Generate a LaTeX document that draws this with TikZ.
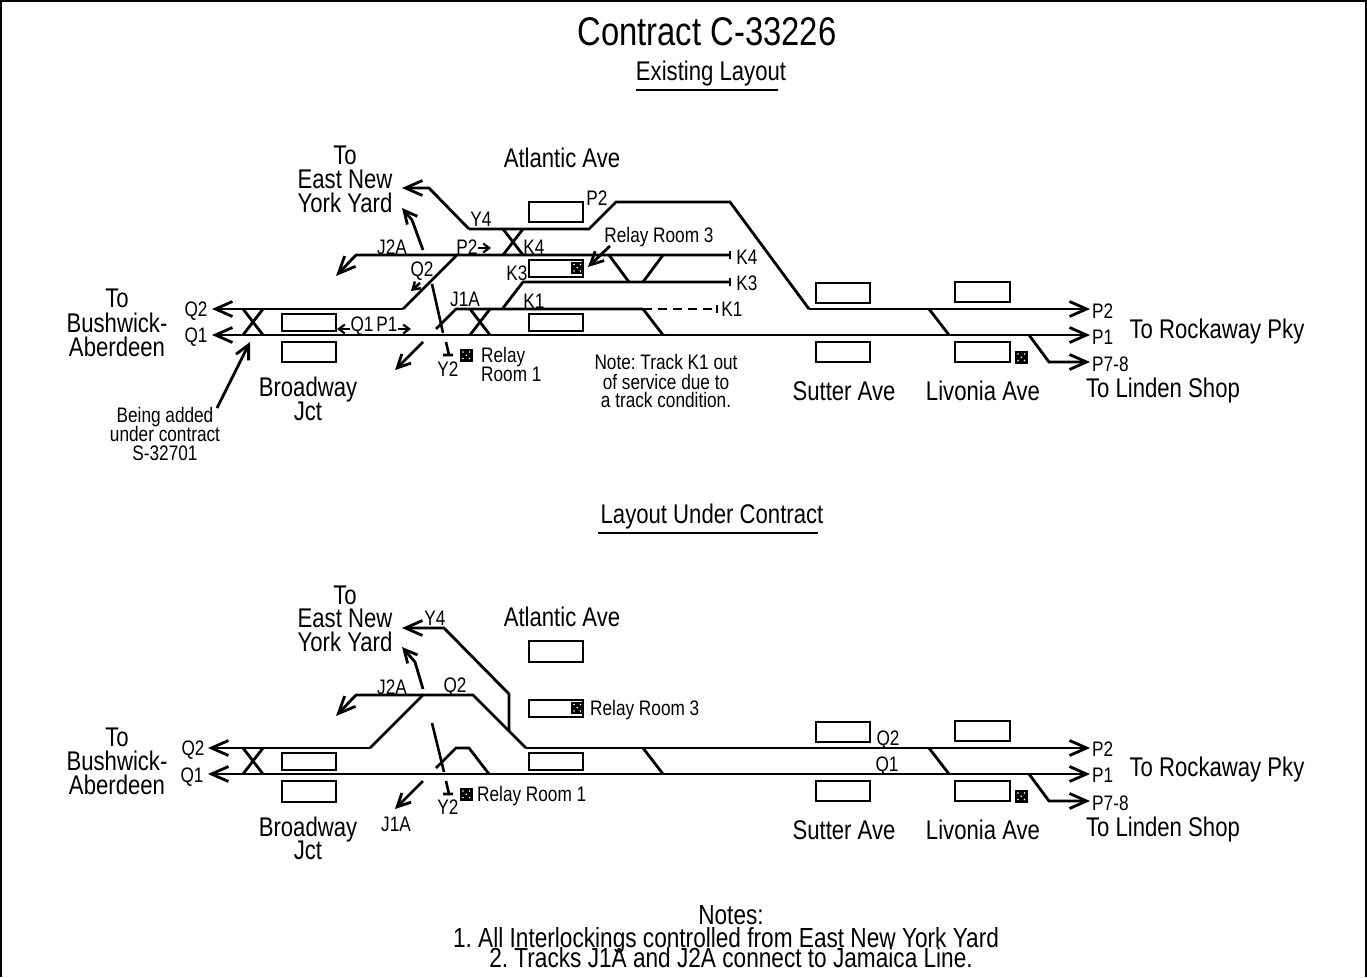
\documentclass[tikz,border=0pt]{standalone}
\usepackage{fontspec}
\setmainfont[FakeStretch=0.82]{Liberation Sans}
\frenchspacing
\usetikzlibrary{arrows.meta}
\tikzset{
  x=1pt,y=-1pt,
  track/.style={line width=2.8pt,line join=miter},
  bigarrow/.style={track,-{Straight Barb[length=17pt,width=15pt,line width=2.8pt]}},
  midarrow/.style={track,-{Straight Barb[length=13pt,width=13pt,line width=2.8pt]}},
  smallarrow/.style={line width=2.4pt,-{Straight Barb[length=6pt,width=9pt,line width=2.2pt]}},
  stub/.style={line width=2.6pt},
  stationbox/.style={draw,line width=2.8pt,fill=white},
  big/.style={font=\fontsize{27}{27}\selectfont,inner sep=0pt,text height=19pt,text depth=0pt},
  notes/.style={font=\fontsize{27.6}{27.6}\selectfont,inner sep=0pt,text height=19pt,text depth=0pt},
  lab/.style={font=\fontsize{21}{21}\selectfont,inner sep=0pt,text height=15pt,text depth=0pt},
  small/.style={font=\fontsize{21}{21}\selectfont,inner sep=0pt,text height=15pt,text depth=0pt},
  lefta/.style={anchor=west},
}
\newcommand{\relaysq}[2]{%
  \fill (#1,#2) rectangle +(12.5,12.5);
  \fill[white] (#1+3,#2+3) circle (0.9pt) (#1+9.5,#2+3) circle (0.9pt) (#1+6.25,#2+6.25) circle (0.9pt) (#1+3,#2+9.5) circle (0.9pt) (#1+9.5,#2+9.5) circle (0.9pt);
}
\begin{document}
\begin{tikzpicture}
\useasboundingbox (0,0) rectangle (1367,977);
\draw[line width=2pt] (1,977) -- (1,1) -- (1366,1) -- (1366,977);

% ---------- headings
\node[font=\fontsize{40}{40}\selectfont,inner sep=0pt,text height=28pt,text depth=0pt] (title) at (707,31) {Contract C-33226};
\node[big] (existing) at (711,71) {Existing Layout};
\draw[track] (636,90) -- (778,90);
\node[big] (under) at (712,514) {Layout Under Contract};
\draw[track] (598,533) -- (818,533);

% ---------- EXISTING LAYOUT: tracks
\draw[bigarrow] (403,309) -- (212,309);
\draw[track] (403,309) -- (457,255) -- (730,255);
\draw[bigarrow] (600,335) -- (212,335);
\draw[bigarrow] (600,335) -- (1090,335);
\draw[bigarrow] (457,255) -- (356,255) -- (336,276);
\draw[bigarrow] (469,229) -- (429,188) -- (402,188);
\draw[track] (469,229) -- (589,229) -- (616,202) -- (730,202) -- (809,309);
\draw[bigarrow] (809,309) -- (1090,309);
\draw[bigarrow] (1029,335) -- (1049,362) -- (1090,362);
\draw[track] (243,309) -- (263,335) (263,309) -- (243,335);
\draw[track] (503,229) -- (523,255) (523,229) -- (503,255);
\draw[track] (470,309) -- (490,335) (490,309) -- (470,335);
\draw[track] (503,308) -- (523,282) -- (730,282);
\draw[track] (436,329) -- (456,309) -- (643,309);
\draw[track,dash pattern=on 9pt off 6pt] (643,309) -- (717,309);
\draw[track] (643,309) -- (663,335);
\draw[track] (609,255) -- (629,282) (663,255) -- (643,282);
\draw[track] (929,309) -- (949,335);
\draw[stub] (730,251) -- (730,259) (730,278) -- (730,286) (717,305) -- (717,313);
% signal Y2
\draw[stub] (432,284) -- (443,333) (446,342) -- (449,355) (443,355) -- (453,355);
% arrows
\draw[midarrow] (423,342) -- (395,370);
\draw[midarrow] (423,250) -- (412,220) -- (402,208);
\draw[line width=2.6pt,-{Straight Barb[length=7pt,width=9pt,line width=2.4pt]}] (420,283) -- (411,291);
\draw[smallarrow] (478,248) -- (491,248);
\draw[smallarrow] (350,329) -- (337,329);
\draw[smallarrow] (398,329) -- (411,329);
\draw[midarrow] (610,246) -- (588,267);
\draw[track,-{Straight Barb[length=14pt,width=14pt,line width=2.8pt]}] (217,408) -- (250,342);

% existing: boxes
\draw[stationbox] (282,314) rectangle (336,331);
\draw[stationbox] (282,342) rectangle (336,362);
\draw[stationbox] (529,202) rectangle (583,222);
\draw[stationbox] (529,260) rectangle (583,277);
\relaysq{571}{261.5}
\draw[stationbox] (529,314) rectangle (583,331);
\draw[stationbox] (816,283) rectangle (870,303);
\draw[stationbox] (816,342) rectangle (870,362);
\draw[stationbox] (955,282) rectangle (1010,302);
\draw[stationbox] (955,342) rectangle (1010,362);
\relaysq{1015}{351}
\relaysq{460}{349}

% existing: text
\node[big] (to1) at (345,155) {To};
\node[big] (eny1) at (345,179) {East New};
\node[big] (yy1) at (345,203) {York Yard};
\node[big] (atl1) at (562,158) {Atlantic Ave};
\node[lab] (y4a) at (481,219) {Y4};
\node[lab] (p2a) at (597,198) {P2};
\node[lab] (j2a) at (392,247) {J2A};
\node[lab] (p2b) at (467,247) {P2};
\node[lab] (k4a) at (534,247) {K4};
\node[lab] (q2a) at (422,269) {Q2};
\node[lab] (k3a) at (517,273) {K3};
\node[small] (rr3) at (659,235) {Relay Room 3};
\node[lab] (k4b) at (747,257) {K4};
\node[lab] (k3b) at (747,283) {K3};
\node[lab] (k1b) at (732,309) {K1};
\node[lab] (j1a) at (465,299) {J1A};
\node[lab] (k1a) at (534,301) {K1};
\node[big] (to2) at (117,298) {To};
\node[big] (bw1) at (117,323) {Bushwick-};
\node[big] (ab1) at (117,347) {Aberdeen};
\node[lab] (q2l) at (196,309) {Q2};
\node[lab] (q1l) at (196,335) {Q1};
\node[lab] (q1m) at (362,324) {Q1};
\node[lab] (p1m) at (387,324) {P1};
\node[lab] (y2a) at (448,369) {Y2};
\node[small,lefta] (rl1) at (481,355) {Relay};
\node[small,lefta] (rl2) at (481,374) {Room 1};
\node[big] (bj1) at (308,387) {Broadway};
\node[big] (bj2) at (308,411) {Jct};
\node[small] (ba1) at (165,415) {Being added};
\node[small] (ba2) at (165,434) {under contract};
\node[small] (ba3) at (165,453) {S-32701};
\node[small] (nt1) at (666,362) {Note: Track K1 out};
\node[small] (nt2) at (666,382) {of service due to};
\node[small] (nt3) at (666,400) {a track condition.};
\node[big] (sut1) at (844,391) {Sutter Ave};
\node[big] (liv1) at (983,391) {Livonia Ave};
\node[big] (lin1) at (1163,388) {To Linden Shop};
\node[big] (roc1) at (1217,329) {To Rockaway Pky};
\node[lab,lefta] (p2r) at (1092,311) {P2};
\node[lab,lefta] (p1r) at (1092,337) {P1};
\node[lab,lefta] (p78) at (1092,364) {P7-8};

% ---------- LAYOUT UNDER CONTRACT: tracks
\draw[bigarrow] (370,748) -- (208,748);
\draw[bigarrow] (600,774) -- (208,774);
\draw[bigarrow] (526,748) -- (1090,748);
\draw[bigarrow] (600,774) -- (1090,774);
\draw[track] (370,748) -- (423,695) -- (473,695) -- (526,748);
\draw[bigarrow] (423,695) -- (356,695) -- (336,716);
\draw[bigarrow] (509,731) -- (509,694) -- (444,628) -- (402,628);
\draw[midarrow] (423,689) -- (415,662) -- (402,647);
\draw[track] (243,748) -- (263,774) (263,748) -- (243,774);
\draw[track] (436,768) -- (456,748) -- (469,748) -- (489,774);
\draw[track] (643,748) -- (663,774);
\draw[track] (929,748) -- (949,774);
\draw[bigarrow] (1029,774) -- (1049,801) -- (1090,801);
\draw[stub] (432,723) -- (444,772) (446,781) -- (449,794) (443,794) -- (453,794);
\draw[midarrow] (423,781) -- (395,809);

% lower: boxes
\draw[stationbox] (282,753) rectangle (336,770);
\draw[stationbox] (282,781) rectangle (336,802);
\draw[stationbox] (529,641) rectangle (583,662);
\draw[stationbox] (529,700) rectangle (583,717);
\relaysq{571}{701.5}
\draw[stationbox] (529,753) rectangle (583,770);
\draw[stationbox] (816,722) rectangle (870,742);
\draw[stationbox] (816,781) rectangle (870,801);
\draw[stationbox] (955,721) rectangle (1010,741);
\draw[stationbox] (955,781) rectangle (1010,801);
\relaysq{1015}{790}
\relaysq{460}{788}

% lower: text
\node[big] (to3) at (345,595) {To};
\node[big] (eny2) at (345,618) {East New};
\node[big] (yy2) at (345,642) {York Yard};
\node[lab] (y4c) at (435,618) {Y4};
\node[big] (atl2) at (562,617) {Atlantic Ave};
\node[lab] (j2c) at (392,687) {J2A};
\node[lab] (q2c) at (455,685) {Q2};
\node[small,lefta] (rr3c) at (590,708) {Relay Room 3};
\node[lab] (q2d) at (193,748) {Q2};
\node[lab] (q1d) at (192,775) {Q1};
\node[big] (to4) at (117,737) {To};
\node[big] (bw2) at (117,761) {Bushwick-};
\node[big] (ab2) at (117,785) {Aberdeen};
\node[lab] (q2e) at (888,738) {Q2};
\node[lab] (q1e) at (887,764) {Q1};
\node[lab,lefta] (p2s) at (1092,749) {P2};
\node[lab,lefta] (p1s) at (1092,775) {P1};
\node[lab,lefta] (p78s) at (1092,803) {P7-8};
\node[big] (roc2) at (1217,767) {To Rockaway Pky};
\node[big] (lin2) at (1163,827) {To Linden Shop};
\node[lab] (y2c) at (448,807) {Y2};
\node[small,lefta] (rr1c) at (477,794) {Relay Room 1};
\node[lab] (j1c) at (396,824) {J1A};
\node[big] (bj3) at (308,827) {Broadway};
\node[big] (bj4) at (308,850) {Jct};
\node[big] (sut2) at (844,830) {Sutter Ave};
\node[big] (liv2) at (983,830) {Livonia Ave};

% notes
\node[notes] (n0) at (731,915) {Notes:};
\node[notes] (n1) at (726,938) {1. All Interlockings controlled from East New York Yard};
\node[notes] (n2) at (731,958) {2. Tracks J1A and J2A connect to Jamaica Line.};
\end{tikzpicture}
\end{document}
